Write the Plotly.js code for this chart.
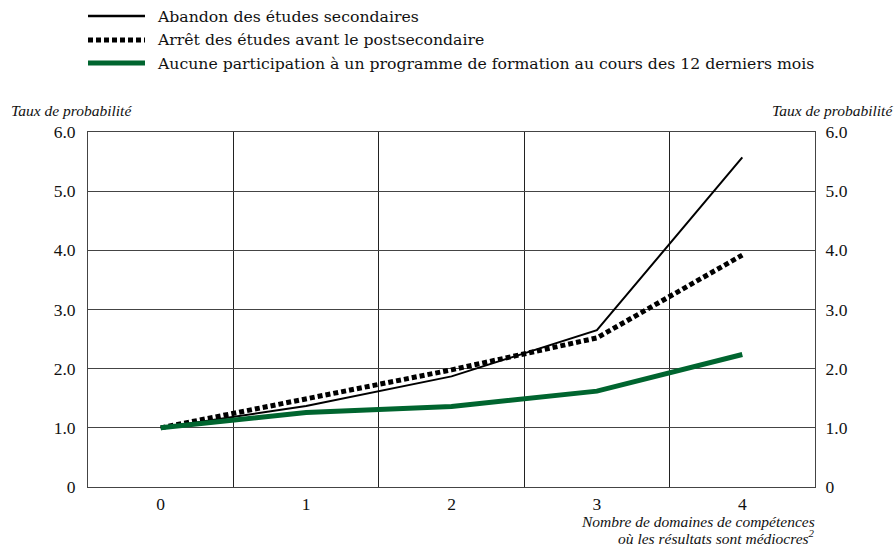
<!DOCTYPE html>
<html>
<head>
<meta charset="utf-8">
<script src="https://cdn.plot.ly/plotly-3.0.1.min.js"></script>
<style>html,body{margin:0;padding:0;background:#fff;}#chart{width:896px;height:548px;}</style>
</head>
<body>
<div id="chart"></div>
<script>
const categories = [0, 1, 2, 3, 4];
const seriesNames = [
  "Abandon des études secondaires",
  "Arrêt des études avant le postsecondaire",
  "Aucune participation à un programme de formation au cours des 12 derniers mois"
];
const abandonSecondaire = [1.0, 1.37, 1.87, 2.65, 5.57];
const arretAvantPostsec = [1.0, 1.50, 1.98, 2.52, 3.92];
const aucuneFormation = [1.0, 1.26, 1.36, 1.62, 2.24];
const yTickVals = [0, 1, 2, 3, 4, 5, 6];
const yTickText = ["0", "1.0", "2.0", "3.0", "4.0", "5.0", "6.0"];
const yTitle = "Taux de probabilité";
const xTitleLines = ["Nombre de domaines de compétences", "où les résultats sont médiocres<sup>2</sup>"];

const SERIF = "Liberation Serif";
const WIDE_SERIF = "DejaVu Serif";
const GREEN = "#00652f";
const styles = [
  {color: "#000", width: 2, dash: "solid"},
  {color: "#000", width: 5, dash: "5px,3px"},
  {color: GREEN, width: 5, dash: "solid"}
];
const seriesData = [abandonSecondaire, arretAvantPostsec, aucuneFormation];

const traces = seriesData.map((ys, i) => ({
  x: categories, y: ys, type: "scatter", mode: "lines", name: seriesNames[i],
  line: {color: styles[i].color, width: styles[i].width, dash: styles[i].dash},
  hoverinfo: "skip", showlegend: false
}));
traces.push({x: categories, y: abandonSecondaire, yaxis: "y2", type: "scatter", mode: "lines",
  line: {width: 0}, opacity: 0, showlegend: false, hoverinfo: "skip"});

const PW = 727, PH = 355, MB = 61;
const px = x => (x - 88) / PW;
const py = y => (548 - y - MB) / PH;

const shapes = [];
const annotations = [];
const legendY = [16, 40, 63];
seriesNames.forEach((n, i) => {
  shapes.push({type: "line", xref: "paper", yref: "paper", layer: "above",
    x0: px(88), x1: px(145), y0: py(legendY[i]), y1: py(legendY[i]),
    line: {color: styles[i].color, width: styles[i].width === 2 ? 2.5 : 5, dash: styles[i].dash}});
  annotations.push({xref: "paper", yref: "paper", x: px(155), y: py(legendY[i]),
    xanchor: "left", yanchor: "middle", text: n, showarrow: false,
    font: {family: WIDE_SERIF, size: 15.7, color: "#111"}});
});
const italicFont = {family: SERIF, size: 15.5, color: "#111"};
annotations.push({xref: "paper", yref: "paper", x: px(9), y: py(110),
  xanchor: "left", yanchor: "middle", text: "<i>" + yTitle + "</i>", showarrow: false, font: italicFont});
annotations.push({xref: "paper", yref: "paper", x: px(895), y: py(110),
  xanchor: "right", yanchor: "middle", text: "<i>" + yTitle + "</i>", showarrow: false, font: italicFont});
annotations.push({xref: "paper", yref: "paper", x: px(817), y: py(521),
  xanchor: "right", yanchor: "middle", text: "<i>" + xTitleLines[0] + "</i>", showarrow: false, font: italicFont});
annotations.push({xref: "paper", yref: "paper", x: px(817), y: py(537),
  xanchor: "right", yanchor: "middle", text: "<i>" + xTitleLines[1] + "</i>", showarrow: false, font: italicFont});

const tickFont = {family: SERIF, size: 17.5, color: "#111"};
const yCommon = {
  range: [0, 6], tickmode: "array", tickvals: yTickVals, ticktext: yTickText,
  showgrid: true, gridcolor: "#444", gridwidth: 1, zeroline: false,
  showline: true, linecolor: "#444", linewidth: 1, ticks: "",
  tickfont: tickFont, fixedrange: true
};

const layout = {
  width: 896, height: 548,
  margin: {l: 88, r: 81, t: 132, b: 61},
  paper_bgcolor: "#fff", plot_bgcolor: "#fff",
  font: {family: SERIF},
  showlegend: false,
  xaxis: {
    range: [-0.5, 4.5], tickmode: "array", tickvals: categories, ticktext: categories.map(String),
    showgrid: false, zeroline: false, showline: true, linecolor: "#444", linewidth: 1, mirror: true,
    ticks: "", ticklabelstandoff: 1,
    minor: {tickmode: "array", tickvals: [0.5, 1.5, 2.5, 3.5], showgrid: true, gridcolor: "#222", gridwidth: 1, ticks: ""},
    tickfont: tickFont, fixedrange: true
  },
  yaxis: Object.assign({}, yCommon, {side: "left", ticklabelstandoff: 8}),
  yaxis2: Object.assign({}, yCommon, {side: "right", overlaying: "y", showgrid: false, ticklabelstandoff: 6}),
  shapes: shapes,
  annotations: annotations
};

Plotly.newPlot("chart", traces, layout, {staticPlot: true, displayModeBar: false});
</script>
</body>
</html>
